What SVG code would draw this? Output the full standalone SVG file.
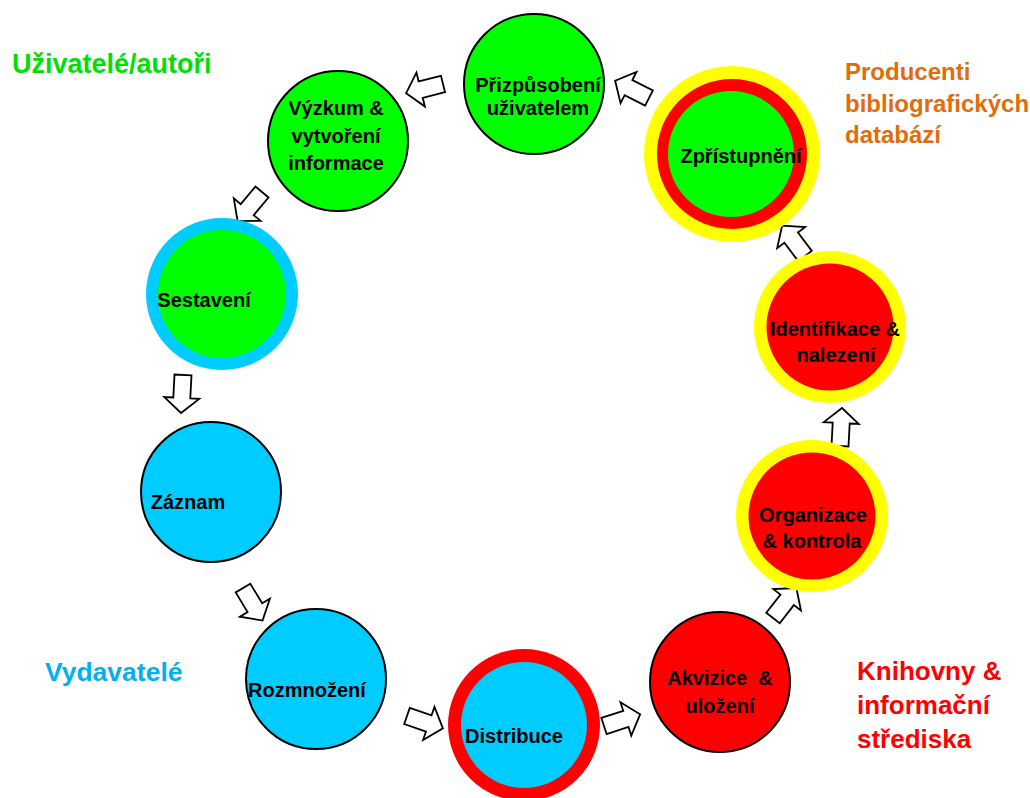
<svg xmlns="http://www.w3.org/2000/svg" width="1030" height="798" viewBox="0 0 1030 798">
  <defs>
    <style>
      .lbl { font-family: "Liberation Sans", Arial, sans-serif; font-weight: bold; font-size: 20px; fill: #000; text-anchor: middle; }
      .grp { font-family: "Liberation Sans", Arial, sans-serif; font-weight: bold; }
      .plain { stroke: #000; stroke-width: 2; }
      .green { fill: #00ff00; }
      .blue { fill: #00ccff; }
      .red { fill: #ff0000; }
      .yellow { fill: #ffff00; }
      .arrow { fill: #fff; stroke: #000; stroke-width: 1.8; stroke-linejoin: miter; }
    </style>
    <!-- block arrow: tail centre at origin, pointing along +x -->
    <path id="blk" d="M0,-8.5 H23 V-17.5 L38,0 L23,17.5 V8.5 H0 Z"/>
  </defs>

  <rect width="1030" height="798" fill="#fff"/>

  <!-- group captions -->
  <text class="grp" x="12" y="73" font-size="27" fill="#00e000">Uživatelé/autoři</text>
  <text class="grp" x="845" y="80" font-size="24" fill="#e36c0a">Producenti</text>
  <text class="grp" x="845" y="112" font-size="24" fill="#e36c0a">bibliografických</text>
  <text class="grp" x="845" y="143" font-size="24" fill="#e36c0a">databází</text>
  <text class="grp" x="45" y="681" font-size="26.5" fill="#00b0f0">Vydavatelé</text>
  <text class="grp" x="857" y="680" font-size="26" fill="#ff0000">Knihovny &amp;</text>
  <text class="grp" x="857" y="714" font-size="26" fill="#ff0000">informační</text>
  <text class="grp" x="857" y="748" font-size="26" fill="#ff0000">střediska</text>

  <!-- connectors -->
  <g id="connectors">
    <use href="#blk" class="arrow" transform="translate(443,84) rotate(166)"/>
    <use href="#blk" class="arrow" transform="translate(649,98) rotate(207)"/>
    <use href="#blk" class="arrow" transform="translate(262,192) rotate(130)"/>
    <use href="#blk" class="arrow" transform="translate(183,375) rotate(93)"/>
    <use href="#blk" class="arrow" transform="translate(243,588) rotate(59)"/>
    <use href="#blk" class="arrow" transform="translate(407,716) rotate(19)"/>
    <use href="#blk" class="arrow" transform="translate(604,726) rotate(-18)"/>
    <use href="#blk" class="arrow" transform="translate(773,618) rotate(-52)"/>
    <use href="#blk" class="arrow" transform="translate(840,446) rotate(-87)"/>
    <use href="#blk" class="arrow" transform="translate(805,256) rotate(-127)"/>
  </g>

  <!-- nodes -->
  <g id="prizpusobeni">
    <circle class="green plain" cx="534" cy="84" r="70"/>
    <text class="lbl" x="538" y="92">Přizpůsobení</text>
    <text class="lbl" x="538" y="115">uživatelem</text>
  </g>

  <g id="vyzkum">
    <circle class="green plain" cx="338" cy="141" r="70"/>
    <text class="lbl" x="336" y="115">Výzkum &amp;</text>
    <text class="lbl" x="336" y="143">vytvoření</text>
    <text class="lbl" x="336" y="170">informace</text>
  </g>

  <g id="zpristupneni">
    <circle class="yellow" cx="732" cy="154" r="88"/>
    <circle class="red" cx="732" cy="154" r="75"/>
    <circle class="green" cx="731" cy="154" r="63"/>
    <text class="lbl" x="741" y="163">Zpřístupnění</text>
  </g>

  <g id="sestaveni">
    <circle class="blue" cx="222" cy="294" r="76"/>
    <circle class="green" cx="222" cy="294" r="64"/>
    <text class="lbl" x="204" y="307">Sestavení</text>
  </g>

  <g id="zaznam">
    <circle class="blue plain" cx="211" cy="492" r="70"/>
    <text class="lbl" x="188" y="509">Záznam</text>
  </g>

  <g id="rozmnozeni">
    <circle class="blue plain" cx="316" cy="679" r="70"/>
    <text class="lbl" x="307" y="697">Rozmnožení</text>
  </g>

  <g id="distribuce">
    <circle class="red" cx="524" cy="725" r="76"/>
    <circle class="blue" cx="524" cy="725" r="63"/>
    <text class="lbl" x="514" y="743">Distribuce</text>
  </g>

  <g id="akvizice">
    <circle class="red plain" cx="720" cy="682" r="70"/>
    <text class="lbl" x="720" y="685">Akvizice&#160; &amp;</text>
    <text class="lbl" x="720" y="713">uložení</text>
  </g>

  <g id="organizace">
    <circle class="yellow" cx="812" cy="516" r="76"/>
    <circle class="red" cx="812" cy="516" r="63.5"/>
    <text class="lbl" x="813" y="522">Organizace</text>
    <text class="lbl" x="812" y="548">&amp; kontrola</text>
  </g>

  <g id="identifikace">
    <circle class="yellow" cx="830" cy="327" r="76"/>
    <circle class="red" cx="830" cy="327" r="63.5"/>
    <text class="lbl" x="835" y="336">Identifikace &amp;</text>
    <text class="lbl" x="836" y="362">nalezení</text>
  </g>
</svg>
